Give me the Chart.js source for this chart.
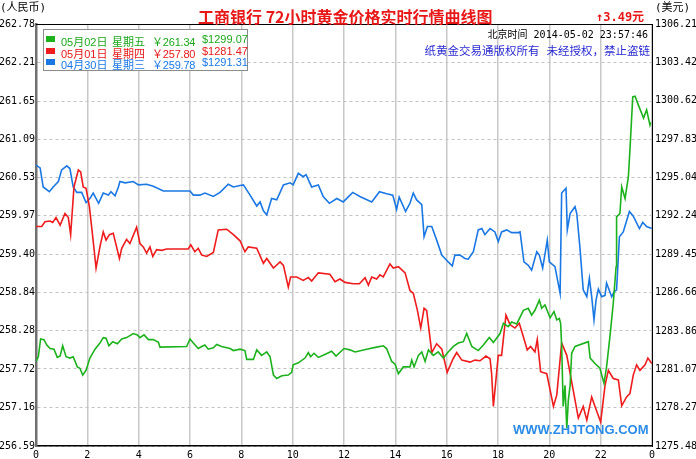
<!DOCTYPE html>
<html><head><meta charset="utf-8">
<script src="https://cdn.jsdelivr.net/npm/chart.js@4/dist/chart.umd.min.js"></script>
<style>
html,body{margin:0;padding:0;background:#fff;}
#wrap{position:relative;width:696px;height:459px;overflow:hidden;}
canvas{position:absolute;left:0;top:0;}
.t{position:absolute;white-space:pre;line-height:1;}
.cjk{font-family:"DejaVu Sans Mono","Noto Sans CJK SC",sans-serif;}
.mix{font-family:"Liberation Sans","Noto Sans CJK SC",sans-serif;}
#legend{position:absolute;left:43px;top:29px;width:203px;height:40px;border:1.5px solid #8c8c8c;background:#fff;}
.row{position:absolute;left:0;height:12px;width:203px;font-size:11px;}
.sw{position:absolute;left:2px;top:3px;width:9px;height:6px;}
.c{position:absolute;top:0;}
</style></head>
<body><div id="wrap">
<canvas id="c" width="696" height="459"></canvas>
<div class="t cjk" style="left:0;top:2px;font-size:11px;">(人民币)</div>
<div class="t cjk" style="left:655px;top:2px;font-size:11px;">(美元)</div>
<div class="t" id="title" style="left:198px;top:8px;font-size:16px;font-weight:bold;color:#e81818;font-family:'Noto Sans CJK SC','Liberation Serif',serif;"></div>
<div class="t cjk" id="chg" style="left:596px;top:11px;font-size:12px;font-weight:bold;color:#e81818;"></div>
<div class="t cjk" id="clock" style="right:48px;top:30px;font-size:10px;color:#000;"></div>
<div class="t cjk" style="right:46px;top:46px;font-size:11.5px;color:#2a2ad0;">纸黄金交易通版权所有 未经授权，禁止盗链</div>
<div class="t" style="left:513px;top:423px;font-size:13px;font-weight:bold;color:#2b8ce8;font-family:'Liberation Sans',Arial,sans-serif;">WWW.ZHJTONG.COM</div>
<div id="legend"></div>
</div>
<script>
// ---- data ----
const titleText = '工商银行 72小时黄金价格实时行情曲线图';
const changeText = '↑3.49元';
const clockText = '北京时间 2014-05-02 23:57:46';

const hourTicks = [0,2,4,6,8,10,12,14,16,18,20,22,24];
const hourLabels = ['0','2','4','6','8','10','12','14','16','18','20','22','0'];
const cnyTicks = [262.78,262.21,261.65,261.09,260.53,259.97,259.40,258.84,258.28,257.72,257.16,256.59];
const usdTicks = [1306.21,1303.42,1300.62,1297.83,1295.04,1292.24,1289.45,1286.66,1283.86,1281.07,1278.27,1275.48];

const seriesDates = ['05月02日','05月01日','04月30日'];
const seriesWeekdays = ['星期五','星期四','星期三'];
const seriesCny = [261.34,257.80,259.78];
const seriesUsd = [1299.07,1281.47,1291.31];

const greenHours = [0,0.09,0.18,0.31,0.42,0.55,0.70,0.83,0.94,1.04,1.17,1.32,1.45,1.61,1.71,1.82,1.95,2.10,2.30,2.49,2.62,2.73,2.84,2.99,3.17,3.34,3.53,3.79,3.95,4.05,4.21,4.38,4.57,4.77,4.83,5.87,6.00,6.13,6.32,6.46,6.58,6.71,6.91,7.04,7.23,7.56,7.69,7.95,8.14,8.21,8.47,8.60,8.79,8.99,9.12,9.25,9.38,9.58,9.83,9.96,10.02,10.22,10.48,10.61,10.70,10.83,11.00,11.19,11.52,11.69,12.00,12.23,12.43,12.88,13.27,13.53,13.66,13.86,13.99,14.12,14.31,14.57,14.64,14.73,14.90,15.03,15.16,15.29,15.48,15.67,15.87,16.06,16.26,16.45,16.65,16.78,16.98,17.23,17.43,17.66,17.82,18.08,18.21,18.40,18.53,18.73,18.99,19.18,19.31,19.44,19.61,19.70,19.83,20.03,20.18,20.29,20.39,20.44,20.48,20.54,20.61,20.68,20.74,20.81,20.87,21.00,21.52,21.59,21.78,21.97,22.13,22.23,22.36,22.49,22.60,22.62,22.75,22.82,22.95,23.08,23.15,23.25,23.34,23.47,23.67,23.79,23.92,23.95];
const greenValues = [257.83,257.90,258.16,258.15,258.07,258.02,258.01,257.89,257.91,258.06,257.90,257.88,257.90,257.75,257.73,257.63,257.70,257.88,258.01,258.10,258.18,258.17,258.06,258.12,258.09,258.16,258.18,258.24,258.22,258.18,258.22,258.15,258.15,258.11,258.04,258.05,258.16,258.10,258.02,258.05,258.07,258.01,258.03,258.08,258.05,258.02,257.99,258.01,257.99,257.86,257.86,258.00,257.92,257.97,257.90,257.63,257.58,257.62,257.63,257.67,257.78,257.81,257.88,257.96,257.90,257.95,257.89,257.92,257.98,257.91,258.02,258.00,257.97,258.01,258.04,258.06,258.02,257.83,257.79,257.65,257.75,257.75,257.85,257.75,257.92,257.97,257.83,258.00,257.92,257.97,257.88,257.97,258.05,258.10,258.12,258.24,258.05,257.99,258.07,258.18,258.11,258.24,258.39,258.34,258.41,258.38,258.58,258.61,258.51,258.58,258.73,258.61,258.66,258.47,258.56,258.44,258.46,258.39,258.07,257.17,257.48,256.85,257.26,257.48,257.95,258.05,258.12,257.88,257.80,257.73,257.51,257.75,258.19,258.68,259.22,259.95,260.00,260.39,260.22,260.54,261.00,261.71,261.72,261.59,261.40,261.52,261.30,261.34];

const redHours = [0,0.22,0.35,0.55,0.65,0.78,0.94,1.13,1.26,1.35,1.48,1.65,1.74,1.84,1.95,2.08,2.21,2.34,2.49,2.62,2.73,2.86,3.01,3.25,3.34,3.53,3.66,3.92,4.05,4.18,4.31,4.44,4.55,4.70,4.90,5.09,5.93,6.03,6.19,6.32,6.46,6.65,6.91,7.10,7.43,7.69,7.95,8.14,8.27,8.60,8.86,8.99,9.25,9.51,9.64,9.83,9.92,10.16,10.41,10.61,10.74,11.00,11.45,11.65,11.84,12.04,12.36,12.60,12.82,12.95,13.08,13.27,13.40,13.53,13.79,13.92,14.12,14.38,14.57,14.70,14.86,14.99,15.12,15.22,15.42,15.61,15.81,16.02,16.25,16.39,16.59,16.91,17.10,17.30,17.53,17.69,17.75,17.82,17.92,18.01,18.14,18.31,18.47,18.66,18.83,18.99,19.14,19.27,19.44,19.53,19.66,19.90,20.16,20.29,20.48,20.68,20.93,21.13,21.32,21.46,21.65,21.78,22.00,22.17,22.30,22.49,22.69,22.82,23.01,23.14,23.27,23.40,23.53,23.73,23.84,23.99];
const redValues = [259.81,259.81,259.88,259.89,259.87,259.94,259.83,260.00,259.94,259.69,260.39,260.64,260.61,260.39,260.37,260.10,259.66,259.20,259.51,259.73,259.61,259.69,259.71,259.34,259.49,259.62,259.56,259.80,259.56,259.51,259.42,259.51,259.37,259.47,259.46,259.48,259.48,259.54,259.44,259.49,259.39,259.37,259.43,259.76,259.77,259.69,259.60,259.44,259.51,259.49,259.27,259.34,259.20,259.29,259.24,258.92,259.07,259.07,259.02,259.06,259.01,259.13,259.11,259.00,259.04,258.99,258.97,258.97,259.06,258.95,259.07,259.04,259.10,259.07,259.26,259.20,259.22,259.13,258.87,258.83,258.58,258.32,258.61,258.58,257.96,258.09,258.01,257.67,257.87,257.96,257.85,257.82,257.85,257.84,257.91,257.87,257.66,257.17,257.56,257.92,257.92,258.51,258.37,258.32,258.39,258.19,258.00,258.05,257.97,258.15,257.68,257.65,257.17,257.34,258.10,257.92,257.41,257.00,257.17,256.97,257.31,257.17,256.94,257.48,257.70,257.58,257.56,257.18,257.31,257.36,257.63,257.78,257.70,257.78,257.88,257.80];

const blueHours = [0,0.16,0.28,0.52,0.67,0.87,1.00,1.20,1.32,1.45,1.59,1.78,1.95,2.10,2.23,2.44,2.62,2.82,2.92,3.08,3.21,3.27,3.47,3.79,3.99,4.31,4.57,4.96,6.00,6.13,6.39,6.58,6.91,7.17,7.49,7.69,7.95,8.08,8.34,8.60,8.73,8.86,8.99,9.18,9.38,9.64,9.90,10.02,10.22,10.41,10.52,10.74,11.00,11.19,11.43,11.72,11.97,12.34,12.62,13.08,13.38,13.66,13.90,14.05,14.15,14.40,14.57,14.70,14.83,15.03,15.12,15.25,15.42,15.61,15.81,16.06,16.22,16.32,16.52,16.71,16.84,17.04,17.23,17.37,17.49,17.69,17.88,18.01,18.14,18.34,18.53,18.79,18.86,19.01,19.18,19.31,19.51,19.61,19.74,19.92,20.00,20.22,20.42,20.48,20.65,20.70,20.81,21.00,21.07,21.19,21.32,21.46,21.56,21.65,21.74,21.82,21.91,22.04,22.17,22.23,22.43,22.52,22.62,22.73,22.88,23.12,23.27,23.51,23.64,23.79,23.99];
const blueValues = [260.71,260.67,260.39,260.32,260.39,260.47,260.64,260.70,260.66,260.39,260.31,260.31,260.16,260.22,260.30,260.15,260.30,260.27,260.32,260.26,260.39,260.47,260.45,260.47,260.42,260.43,260.40,260.33,260.33,260.27,260.27,260.30,260.25,260.31,260.43,260.39,260.41,260.42,260.27,260.11,260.17,260.04,259.98,260.22,260.20,260.42,260.45,260.42,260.59,260.54,260.57,260.39,260.42,260.25,260.15,260.22,260.17,260.31,260.25,260.17,260.32,260.29,260.27,260.06,260.24,260.03,260.15,260.30,260.20,260.13,259.66,259.81,259.81,259.61,259.39,259.29,259.23,259.39,259.39,259.34,259.33,259.44,259.76,259.78,259.69,259.78,259.73,259.59,259.73,259.76,259.72,259.72,259.73,259.29,259.24,259.17,259.44,259.39,259.20,259.61,259.29,259.22,258.83,260.30,260.37,259.76,260.00,260.10,260.00,259.51,258.88,258.78,259.05,258.78,258.44,258.73,258.89,258.78,258.80,258.98,258.78,258.85,258.88,259.66,259.73,260.03,259.96,259.78,259.87,259.81,259.78];

// ---- styles ----
const colors = ['#1cb21c','#ee1c1c','#1a78e4'];
const textColors = ['#1aa81a','#e81818','#1a78e4'];

function zip(h, v){ return h.map((x,i)=>({x:x, y:v[i]})); }

document.getElementById('title').textContent = titleText;
document.getElementById('chg').textContent = changeText;
document.getElementById('clock').textContent = clockText;

const legend = document.getElementById('legend');
seriesDates.forEach((d,i)=>{
  const row = document.createElement('div');
  row.className = 'row mix';
  row.style.top = (3 + i*11.5) + 'px';
  row.style.color = textColors[i];
  row.innerHTML = '<div class="sw" style="background:'+colors[i]+'"></div>'+
    '<span class="c" style="left:17px">'+d+'</span>'+
    '<span class="c" style="left:68px">'+seriesWeekdays[i]+'</span>'+
    '<span class="c" style="left:108px;letter-spacing:-0.2px">￥'+seriesCny[i].toFixed(2)+'</span>'+
    '<span class="c" style="left:158px">$'+seriesUsd[i].toFixed(2)+'</span>';
  legend.appendChild(row);
});

const topBorder = {
  id:'topBorder',
  afterDatasetsDraw(chart){
    const a = chart.chartArea, ctx = chart.ctx;
    ctx.save(); ctx.strokeStyle='#000'; ctx.lineWidth=1;
    ctx.beginPath(); ctx.moveTo(a.left, a.top+0.5); ctx.lineTo(a.right, a.top+0.5); ctx.stroke();
    ctx.restore();
  }
};

const tickFont = {family:'"DejaVu Sans Mono", monospace', size:10};

new Chart(document.getElementById('c'), {
  type:'line',
  data:{datasets:[
    {label:seriesDates[0], data:zip(greenHours, greenValues), borderColor:colors[0], borderWidth:1.6, pointRadius:0, tension:0, yAxisID:'y'},
    {label:seriesDates[1], data:zip(redHours, redValues), borderColor:colors[1], borderWidth:1.6, pointRadius:0, tension:0, yAxisID:'y'},
    {label:seriesDates[2], data:zip(blueHours, blueValues), borderColor:colors[2], borderWidth:1.6, pointRadius:0, tension:0, yAxisID:'y'}
  ]},
  options:{
    responsive:false, animation:false,
    layout:{padding:{top:24,left:0,right:0,bottom:0}},
    plugins:{legend:{display:false}, tooltip:{enabled:false}, title:{display:false}},
    scales:{
      x:{type:'linear', min:0, max:24,
        afterBuildTicks:(s)=>{ s.ticks = hourTicks.map(v=>({value:v})); },
        afterFit:(s)=>{ s.height = 13; },
        ticks:{font:tickFont, color:'#000', padding:3, maxRotation:0, autoSkip:false,
          callback:(v,i)=>hourLabels[i]},
        grid:{color:'#c8c8c8', lineWidth:1.5, drawTicks:false},
        border:{color:'#000', width:1.5}
      },
      y:{type:'linear', position:'left', min:256.59, max:262.78,
        afterBuildTicks:(s)=>{ s.ticks = cnyTicks.map(v=>({value:v})); },
        afterFit:(s)=>{ s.width = 36; },
        ticks:{font:tickFont, color:'#000', padding:1, callback:(v)=>v.toFixed(2)},
        grid:{color:'#c2c2c2', lineWidth:1, drawTicks:false},
        border:{color:'#707070', width:2.5, dash:[3,3]}
      },
      y2:{type:'linear', position:'right', min:1275.48, max:1306.21,
        afterBuildTicks:(s)=>{ s.ticks = usdTicks.map(v=>({value:v})); },
        afterFit:(s)=>{ s.width = 44; },
        ticks:{font:tickFont, color:'#000', padding:3, callback:(v)=>v.toFixed(2)},
        grid:{drawOnChartArea:false, drawTicks:false},
        border:{color:'#000', width:1}
      }
    }
  },
  plugins:[topBorder]
});
</script>
</body></html>
